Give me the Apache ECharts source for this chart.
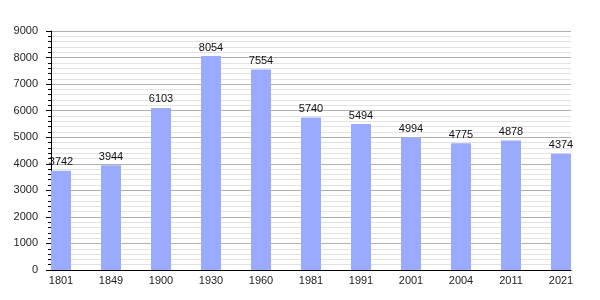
<!DOCTYPE html>
<html><head><meta charset="utf-8">
<script src="https://cdn.jsdelivr.net/npm/echarts@6/dist/echarts.min.js"></script>
<style>html,body{margin:0;padding:0;background:#fff}#c{width:600px;height:300px}</style>
</head><body><div id="c"></div>
<script>
const years = ['1801','1849','1900','1930','1960','1981','1991','2001','2004','2011','2021'];
const population = [3742, 3944, 6103, 8054, 7554, 5740, 5494, 4994, 4775, 4878, 4374];
const yMin = 0, yMax = 9000, yStep = 1000;

const chart = echarts.init(document.getElementById('c'), null, {renderer: 'canvas'});
const font = 'Liberation Sans, Arial, sans-serif';
chart.setOption({
  animation: false,
  backgroundColor: '#fff',
  grid: [
    {left: 51, right: 29, top: 31, bottom: 30},
    {left: 61, right: 39, top: 31, bottom: 30}
  ],
  xAxis: [
    {gridIndex: 0, type: 'value', min: 0, max: 1,
     axisLine: {show: true, onZero: false, lineStyle: {color: '#000', width: 1}},
     axisTick: {show: false}, axisLabel: {show: false}, splitLine: {show: false}},
    {gridIndex: 1, type: 'category', data: years, boundaryGap: false,
     axisLine: {show: false}, axisTick: {show: false},
     axisLabel: {color: '#222', fontFamily: font, fontSize: 11, margin: 5, interval: 0}}
  ],
  yAxis: [
    {gridIndex: 0, type: 'value', min: yMin, max: yMax, interval: yStep,
     axisLine: {show: true, lineStyle: {color: '#000', width: 1}},
     axisTick: {show: true, inside: false, length: 5, lineStyle: {color: '#000'}},
     minorTick: {show: true, splitNumber: 5, length: 3, lineStyle: {color: '#000'}},
     axisLabel: {color: '#222', fontFamily: font, fontSize: 11, margin: 13,
                 formatter: v => String(v)},
     splitLine: {show: true, lineStyle: {color: '#b0b0b0', width: 1}},
     minorSplitLine: {show: true, lineStyle: {color: '#e2e2e2', width: 1}}},
    {gridIndex: 1, type: 'value', min: yMin, max: yMax, interval: yStep, show: false,
     splitLine: {show: false}}
  ],
  series: [{
    type: 'bar', xAxisIndex: 1, yAxisIndex: 1, data: population, barWidth: 20,
    itemStyle: {color: '#99aaff'},
    label: {show: true, position: 'top', color: '#111', fontFamily: font, fontSize: 11, distance: 3}
  }]
});
</script></body></html>
